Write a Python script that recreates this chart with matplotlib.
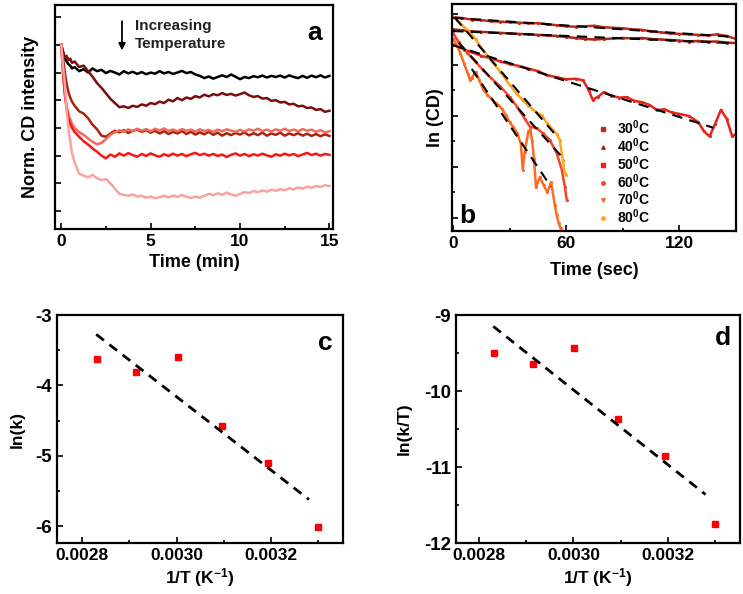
import numpy as np
import matplotlib
matplotlib.use("Agg")
import matplotlib.pyplot as plt
from matplotlib.lines import Line2D
from matplotlib.ticker import MultipleLocator, FixedLocator, FormatStrFormatter, NullFormatter

plt.rcParams['font.family'] = ['Liberation Sans', 'DejaVu Sans']
plt.rcParams['font.weight'] = 'bold'
plt.rcParams['axes.labelweight'] = 'bold'
plt.rcParams['mathtext.fontset'] = 'custom'
plt.rcParams['mathtext.rm'] = 'Liberation Sans:bold'
plt.rcParams['mathtext.it'] = 'Liberation Sans:bold'
plt.rcParams['mathtext.bf'] = 'Liberation Sans:bold'
plt.rcParams['mathtext.default'] = 'rm'

# ---------------- Panel a data ----------------
time_early = [0, 0.1, 0.2, 0.3, 0.4, 0.5, 0.6, 0.75]
time_a = np.concatenate([time_early, np.arange(1.0, 15.01, 0.25)])

cd_black = [1.000, 0.975, 0.950, 0.940, 0.930, 0.925, 0.915, 0.920,
            0.905, 0.912, 0.900, 0.915, 0.905, 0.910, 0.898, 0.906,
            0.900, 0.893, 0.905, 0.897, 0.903, 0.895, 0.902, 0.894,
            0.900, 0.896, 0.905, 0.897, 0.902, 0.895, 0.900, 0.906,
            0.898, 0.902, 0.893, 0.888, 0.880, 0.886, 0.878, 0.884,
            0.890, 0.884, 0.893, 0.885, 0.876, 0.884, 0.880, 0.887,
            0.883, 0.889, 0.882, 0.888, 0.884, 0.889, 0.882, 0.890,
            0.884, 0.880, 0.888, 0.881, 0.889, 0.883, 0.890, 0.882,
            0.888]
cd_darkred = [1.000, 0.975, 0.955, 0.960, 0.945, 0.950, 0.935, 0.940,
              0.920, 0.925, 0.905, 0.885, 0.862, 0.845, 0.825, 0.805,
              0.790, 0.775, 0.778, 0.772, 0.780, 0.776, 0.785, 0.780,
              0.790, 0.786, 0.795, 0.790, 0.802, 0.796, 0.808, 0.800,
              0.810, 0.805, 0.815, 0.810, 0.820, 0.814, 0.822, 0.818,
              0.826, 0.819, 0.823, 0.817, 0.822, 0.828, 0.818, 0.812,
              0.815, 0.806, 0.808, 0.798, 0.800, 0.792, 0.794, 0.785,
              0.787, 0.778, 0.780, 0.772, 0.774, 0.765, 0.768, 0.758,
              0.762]
cd_brown = [1.000, 0.950, 0.900, 0.860, 0.830, 0.810, 0.795, 0.780,
            0.760, 0.752, 0.735, 0.712, 0.695, 0.672, 0.668, 0.680,
            0.690, 0.684, 0.692, 0.682, 0.690, 0.694, 0.686, 0.692,
            0.683, 0.690, 0.680, 0.688, 0.678, 0.686, 0.680, 0.689,
            0.678, 0.686, 0.676, 0.684, 0.677, 0.686, 0.675, 0.683,
            0.672, 0.681, 0.674, 0.682, 0.676, 0.684, 0.673, 0.681,
            0.674, 0.683, 0.672, 0.680, 0.675, 0.683, 0.672, 0.680,
            0.674, 0.681, 0.672, 0.679, 0.671, 0.678, 0.670, 0.677,
            0.671]
cd_salmon = [1.000, 0.900, 0.830, 0.780, 0.750, 0.730, 0.715, 0.700,
             0.685, 0.675, 0.662, 0.650, 0.641, 0.646, 0.660, 0.675,
             0.684, 0.692, 0.686, 0.695, 0.688, 0.697, 0.690, 0.696,
             0.688, 0.697, 0.691, 0.698, 0.689, 0.694, 0.688, 0.696,
             0.690, 0.694, 0.687, 0.695, 0.689, 0.693, 0.686, 0.694,
             0.688, 0.695, 0.690, 0.686, 0.693, 0.687, 0.695, 0.690,
             0.697, 0.689, 0.694, 0.687, 0.695, 0.690, 0.697, 0.689,
             0.694, 0.688, 0.696, 0.690, 0.694, 0.686, 0.692, 0.684,
             0.688]
cd_red = [1.000, 0.900, 0.820, 0.770, 0.735, 0.715, 0.700, 0.685,
          0.668, 0.652, 0.640, 0.626, 0.614, 0.600, 0.590, 0.604,
          0.596, 0.608, 0.600, 0.609, 0.602, 0.596, 0.606, 0.599,
          0.608, 0.601, 0.596, 0.605, 0.599, 0.607, 0.600, 0.606,
          0.598, 0.605, 0.610, 0.602, 0.607, 0.600, 0.606, 0.599,
          0.604, 0.595, 0.603, 0.608, 0.600, 0.606, 0.598, 0.605,
          0.600, 0.607, 0.601, 0.596, 0.605, 0.600, 0.607, 0.601,
          0.606, 0.598, 0.604, 0.610, 0.602, 0.607, 0.600, 0.606,
          0.603]
cd_pink = [1.000, 0.920, 0.860, 0.760, 0.700, 0.650, 0.610, 0.575,
           0.535, 0.528, 0.522, 0.530, 0.518, 0.512, 0.515, 0.500,
           0.480, 0.462, 0.458, 0.455, 0.460, 0.452, 0.455, 0.448,
           0.452, 0.446, 0.450, 0.455, 0.449, 0.456, 0.451, 0.458,
           0.452, 0.447, 0.452, 0.448, 0.455, 0.462, 0.457, 0.464,
           0.459, 0.466, 0.460, 0.455, 0.462, 0.468, 0.465, 0.472,
           0.468, 0.474, 0.470, 0.477, 0.473, 0.479, 0.475, 0.482,
           0.478, 0.485, 0.481, 0.488, 0.484, 0.490, 0.487, 0.493,
           0.490]
a_series = [cd_black, cd_darkred, cd_brown, cd_salmon, cd_red, cd_pink]
a_colors = ['#000000', '#7B0D0D', '#A8240E', '#F26B5E', '#FF1414', '#F8A3A0']

# ---------------- Panel b data ----------------
b_labels = ['30$^0$C', '40$^0$C', '50$^0$C', '60$^0$C', '70$^0$C', '80$^0$C']
b_colors = ['#C42A1C', '#A8281E', '#E8231A', '#F2452B', '#FF6B21', '#FFA51F']
b_markers = ['s', '^', 's', 'o', 'v', 'o']

t30 = list(range(0, 151, 5))
ln30 = [0.94, 0.92, 0.89, 0.88, 0.86, 0.85, 0.84, 0.83, 0.82, 0.82, 0.80, 0.78,
        0.76, 0.75, 0.76, 0.77, 0.74, 0.73, 0.72, 0.70, 0.69, 0.66, 0.64, 0.62,
        0.61, 0.60, 0.59, 0.58, 0.60, 0.57, 0.51]
t40 = list(range(0, 151, 5))
ln40 = [0.70, 0.68, 0.66, 0.65, 0.64, 0.63, 0.62, 0.61, 0.60, 0.59, 0.58, 0.57,
        0.55, 0.53, 0.51, 0.50, 0.51, 0.52, 0.53, 0.52, 0.53, 0.51, 0.50, 0.49,
        0.48, 0.46, 0.47, 0.46, 0.46, 0.44, 0.43]
t50 = [0, 3, 6, 10, 15, 20, 25, 30, 35, 40, 45, 50, 55, 60, 65, 69, 72, 74, 77,
       80, 84, 88, 92, 96, 100, 104, 108, 112, 116, 120, 125, 130, 133, 136, 139,
       142, 145, 148, 150]
ln50 = [0.40, 0.36, 0.30, 0.25, 0.18, 0.13, 0.07, 0.02, -0.02, -0.07, -0.12, -0.20,
        -0.24, -0.28, -0.27, -0.30, -0.50, -0.68, -0.62, -0.53, -0.60, -0.64, -0.63,
        -0.70, -0.73, -0.78, -0.88, -0.87, -0.93, -0.96, -1.00, -1.12, -1.30, -1.40,
        -1.15, -0.88, -1.05, -1.40, -1.35]
t60 = [0, 3, 7.5, 12, 16, 20, 25, 30, 34, 38, 40.8, 44.5, 47.6, 51.3, 55, 57.7, 59.3, 60.3]
ln60 = [0.63, 0.45, 0.24, 0.06, -0.10, -0.25, -0.42, -0.62, -0.82, -1.05, -1.21, -1.24,
        -1.34, -1.47, -1.73, -2.06, -2.39, -2.65]
t70 = [0, 2, 4, 6, 8, 9, 10, 12, 14, 16, 18, 20, 22, 24, 26, 28, 30, 32, 34, 36, 37,
       38, 40, 41, 42, 43, 44, 46, 48, 50, 52, 54, 55, 56, 57]
ln70 = [0.50, 0.40, 0.22, 0.02, -0.18, -0.29, -0.25, -0.14, -0.30, -0.48, -0.58, -0.65,
        -0.72, -0.78, -0.86, -0.98, -1.12, -1.22, -1.33, -1.55, -2.05, -1.70, -1.30,
        -1.27, -1.50, -1.85, -2.40, -2.20, -2.35, -2.50, -2.30, -2.75, -2.95, -3.10, -3.20]
t80 = [0, 1, 3, 6, 9, 12, 16, 20, 25, 30, 34, 37, 40, 42, 44.5, 47, 49.7, 53, 55, 56.6,
       58.2, 59.3, 60]
ln80 = [0.95, 0.92, 0.84, 0.74, 0.65, 0.50, 0.29, 0.10, -0.13, -0.39, -0.57, -0.69, -0.80,
        -0.86, -0.94, -0.98, -1.14, -1.27, -1.35, -1.47, -1.86, -2.12, -2.15]
b_times = [t30, t40, t50, t60, t70, t80]
b_values = [ln30, ln40, ln50, ln60, ln70, ln80]
b_fit_windows = [(0, 150), (0, 150), (0, 138), (3, 57), (10, 52), (1, 56)]

# ---------------- Panels c, d data ----------------
inv_T = [0.002832, 0.002914, 0.003002, 0.003095, 0.003193, 0.003299]
ln_k = [-3.62, -3.81, -3.60, -4.58, -5.10, -6.01]
ln_kT = [-9.50, -9.65, -9.43, -10.37, -10.86, -11.75]
fit_range_cd = [0.00283, 0.00328]

W, H = 743, 594
fig = plt.figure(figsize=(W / 100, H / 100), dpi=100)

def frac(l, t, r, b):
    return [l / W, 1 - b / H, (r - l) / W, (b - t) / H]

ax_a = fig.add_axes(frac(55, 5, 333, 229))
ax_b = fig.add_axes(frac(452, 4, 736, 231))
ax_c = fig.add_axes(frac(57, 315, 343, 543))
ax_d = fig.add_axes(frac(456, 315, 740, 543))

for ax in (ax_a, ax_b, ax_c, ax_d):
    for s in ax.spines.values():
        s.set_linewidth(1.6)
    ax.tick_params(which='both', direction='in', width=1.2, labelsize=12.5, top=False, right=False)
    ax.tick_params(which='major', length=4.5)
    ax.tick_params(which='minor', length=2.5)

# Panel a
for vals, col in zip(a_series, a_colors):
    ax_a.plot(time_a, vals, color=col, lw=1.8)
ax_a.set_xlim(-0.35, 15.2)
ax_a.set_ylim(0.335, 1.144)
ax_a.xaxis.set_major_locator(MultipleLocator(5))
ax_a.xaxis.set_minor_locator(MultipleLocator(2.5))
ax_a.yaxis.set_major_locator(MultipleLocator(0.1))
ax_a.yaxis.set_major_formatter(NullFormatter())
ax_a.set_xlabel('Time (min)', fontsize=13, labelpad=4)
ax_a.set_ylabel('Norm. CD intensity', fontsize=13, labelpad=8)
ax_a.text(0.935, 0.875, 'a', transform=ax_a.transAxes, fontsize=19, ha='center', va='center')
ax_a.text(0.288, 0.906, 'Increasing', transform=ax_a.transAxes, fontsize=11,
          fontweight='bold', color='#222222', ha='left', va='center')
ax_a.text(0.288, 0.826, 'Temperature', transform=ax_a.transAxes, fontsize=11,
          fontweight='bold', color='#222222', ha='left', va='center')
ax_a.annotate('', xy=(0.241, 0.785), xytext=(0.241, 0.94), xycoords='axes fraction',
              arrowprops=dict(arrowstyle='-|>', color='black', lw=1.3, mutation_scale=10))

# Panel b
for t, v, col in zip(b_times, b_values, b_colors):
    ax_b.plot(t, v, color=col, lw=1.8, marker='.', ms=2.5)
for t, v, (t0, t1) in zip(b_times, b_values, b_fit_windows):
    t = np.asarray(t, float)
    v = np.asarray(v, float)
    m = (t >= t0) & (t <= t1)
    p = np.polyfit(t[m], v[m], 1)
    xx = np.array([t0, t1])
    ax_b.plot(xx, np.polyval(p, xx), color='black', lw=1.5, ls=(0, (5, 3.5)))
ax_b.set_xlim(-0.5, 150)
ax_b.set_ylim(-3.255, 1.196)
ax_b.xaxis.set_major_locator(MultipleLocator(60))
ax_b.xaxis.set_minor_locator(MultipleLocator(30))
ax_b.yaxis.set_major_locator(MultipleLocator(1))
ax_b.yaxis.set_minor_locator(MultipleLocator(0.5))
ax_b.yaxis.set_major_formatter(NullFormatter())
ax_b.set_xlabel('Time (sec)', fontsize=13, labelpad=8)
ax_b.set_ylabel('ln (CD)', fontsize=13, labelpad=2)
ax_b.text(0.055, 0.065, 'b', transform=ax_b.transAxes, fontsize=19, ha='center', va='center')
handles = [Line2D([], [], color=c, marker=mk, ms=2.5, ls='none') for c, mk in zip(b_colors, b_markers)]
ax_b.legend(handles, b_labels, loc='lower left', bbox_to_anchor=(0.473, -0.021), frameon=False,
            fontsize=10, handlelength=1.0, handletextpad=0.5, labelspacing=-0.06, borderpad=0.2)

# Panel c
ax_c.plot(inv_T, ln_k, ls='none', marker='s', ms=4, color='#FF0000')
pc = np.polyfit(inv_T, ln_k, 1)
xx = np.array(fit_range_cd)
ax_c.plot(xx, np.polyval(pc, xx), color='black', lw=2, ls=(0, (3.5, 2.5)))
ax_c.set_xlim(0.002747, 0.003352)
ax_c.set_ylim(-6.24, -3.0)
ax_c.xaxis.set_major_locator(FixedLocator([0.0028, 0.0030, 0.0032]))
ax_c.xaxis.set_minor_locator(FixedLocator([0.0029, 0.0031, 0.0033]))
ax_c.xaxis.set_major_formatter(FormatStrFormatter('%.4f'))
ax_c.yaxis.set_major_locator(MultipleLocator(1))
ax_c.yaxis.set_minor_locator(MultipleLocator(0.5))
ax_c.yaxis.set_major_formatter(FormatStrFormatter('%d'))
ax_c.tick_params(axis='y', labelsize=13.5)
ax_c.set_xlabel('1/T (K$^{-1}$)', fontsize=12.5, labelpad=2)
ax_c.set_ylabel('ln(k)', fontsize=12.5, labelpad=8)
ax_c.text(0.937, 0.877, 'c', transform=ax_c.transAxes, fontsize=19, ha='center', va='center')

# Panel d
ax_d.plot(inv_T, ln_kT, ls='none', marker='s', ms=4, color='#FF0000')
pd_ = np.polyfit(inv_T, ln_kT, 1)
ax_d.plot(xx, np.polyval(pd_, xx), color='black', lw=2, ls=(0, (3.5, 2.5)))
ax_d.set_xlim(0.002751, 0.003353)
ax_d.set_ylim(-12.0, -9.0)
ax_d.xaxis.set_major_locator(FixedLocator([0.0028, 0.0030, 0.0032]))
ax_d.xaxis.set_minor_locator(FixedLocator([0.0029, 0.0031, 0.0033]))
ax_d.xaxis.set_major_formatter(FormatStrFormatter('%.4f'))
ax_d.yaxis.set_major_locator(MultipleLocator(1))
ax_d.yaxis.set_minor_locator(MultipleLocator(0.5))
ax_d.yaxis.set_major_formatter(FormatStrFormatter('%d'))
ax_d.tick_params(axis='y', labelsize=13.5)
ax_d.set_xlabel('1/T (K$^{-1}$)', fontsize=12.5, labelpad=2)
ax_d.set_ylabel('ln(k/T)', fontsize=12.5, labelpad=9)
ax_d.text(0.94, 0.9, 'd', transform=ax_d.transAxes, fontsize=19, ha='center', va='center')

fig.savefig('out.png', dpi=100)
